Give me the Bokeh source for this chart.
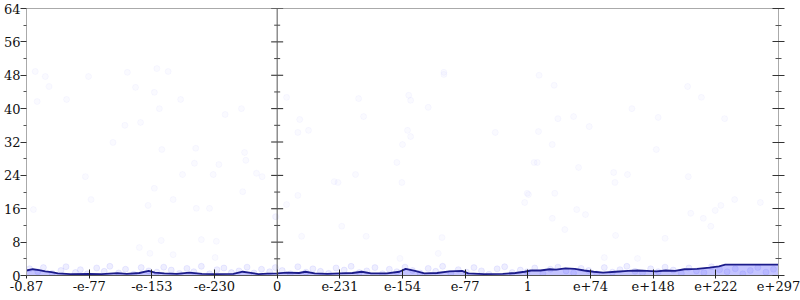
from bokeh.plotting import figure
from bokeh.models import Range1d, LinearAxis, FixedTicker, Span, CustomLabelingPolicy
from bokeh.embed import file_html
from bokeh.resources import INLINE

# ---- data ----
x_ticks = [0, 1, 2, 3, 4, 5, 6, 7, 8, 9, 10, 11, 12]
x_labels = ["-0.87", "-e-77", "-e-153", "-e-230", "0", "e-231", "e-154",
            "e-77", "1", "e+74", "e+148", "e+222", "e+297"]
y_major = [0, 8, 16, 24, 32, 40, 48, 56, 64]
y_minor = [4, 12, 20, 28, 36, 44, 52, 60]

kde_x = [0.00, 0.10, 0.20, 0.30, 0.40, 0.50, 0.70, 1.00, 1.20, 1.45, 1.60, 1.80,
         1.95, 2.05, 2.20, 2.40, 2.60, 2.80, 3.00, 3.30, 3.45, 3.55, 3.70, 3.85,
         4.00, 4.15, 4.35, 4.45, 4.60, 4.80, 5.00, 5.20, 5.35, 5.50, 5.75, 5.95,
         6.05, 6.20, 6.35, 6.55, 6.75, 6.95, 7.05, 7.30, 7.60, 7.80, 7.95, 8.05,
         8.20, 8.35, 8.45, 8.60, 8.75, 8.90, 9.05, 9.20, 9.40, 9.60, 9.75, 9.90,
         10.05, 10.20, 10.35, 10.50, 10.70, 10.90, 11.05, 11.15, 12.00]
kde_y = [1.2, 1.5, 1.3, 1.0, 0.8, 0.5, 0.35, 0.4, 0.35, 0.55, 0.4, 0.6,
         1.1, 0.7, 0.5, 0.4, 0.7, 0.4, 0.35, 0.4, 0.9, 0.7, 0.35, 0.45,
         0.5, 0.7, 0.6, 0.9, 0.5, 0.4, 0.5, 0.6, 0.9, 0.5, 0.5, 0.9,
         1.6, 1.1, 0.5, 0.6, 1.0, 1.1, 0.5, 0.35, 0.4, 0.6, 0.9, 1.2,
         1.2, 1.5, 1.4, 1.7, 1.6, 1.2, 0.9, 0.7, 0.9, 1.1, 1.2, 1.1,
         1.0, 1.2, 1.1, 1.5, 1.6, 1.9, 2.2, 2.6, 2.6]

pts_x = [0.14, 0.30, 0.36, 0.17, 0.64, 0.99, 1.61, 1.74, 2.08, 2.26, 2.04, 2.12,
         2.46, 1.57, 1.82, 1.38, 2.16, 2.70, 2.68, 3.07, 3.17, 3.43, 3.48, 3.50,
         2.49, 2.98, 3.67, 3.76, 0.94, 1.03, 2.04, 2.34, 3.45, 1.94, 2.71, 2.92,
         0.11, 2.15, 2.79, 3.03, 1.80, 1.97, 2.34, 3.01, 3.97,
         4.15, 4.36, 4.33, 4.50, 5.30, 5.38, 6.66, 6.66, 6.10, 6.13, 6.41, 6.08,
         6.13, 6.00, 5.91, 5.99, 5.25, 4.91, 4.97, 4.33, 4.15, 3.98, 5.03, 4.39,
         5.42, 6.63, 6.57, 5.96, 7.48, 8.10, 8.01, 7.95,
         8.18, 8.42, 10.55, 10.77, 9.66, 8.48, 8.73, 10.08, 11.14, 8.98, 8.17, 8.39,
         10.05, 8.15, 8.81, 9.37, 9.39, 9.59, 10.56, 7.99, 8.43, 11.30, 11.71, 11.08,
         10.99, 8.78, 8.92, 8.39, 10.60, 10.80, 10.92, 8.59, 9.40, 10.19, 9.22, 9.75]
pts_y = [48.9, 47.7, 45.3, 41.7, 42.2, 47.7, 48.7, 45.1, 49.6, 48.9, 43.9, 40.0,
         42.2, 36.0, 36.7, 31.9, 30.2, 30.5, 26.9, 26.6, 38.6, 40.0, 29.5, 27.6,
         24.2, 24.2, 24.5, 23.7, 23.7, 18.2, 20.9, 18.2, 20.1, 16.8, 16.1, 16.1,
         15.8, 8.4, 8.6, 8.2, 6.7, 5.3, 5.0, 4.3, 14.1,
         42.7, 37.4, 34.3, 34.8, 42.4, 38.1, 48.7, 48.2, 43.2, 42.0, 40.3, 34.8,
         33.3, 31.4, 27.1, 22.3, 24.2, 22.5, 22.3, 19.2, 17.0, 14.1, 11.8, 9.4,
         9.4, 9.1, 5.3, 4.1, 34.3, 27.1, 19.4, 17.5,
         48.0, 45.6, 45.3, 42.7, 40.0, 37.6, 38.1, 37.9, 37.6, 35.7, 34.5, 31.4,
         30.2, 27.1, 25.9, 24.7, 22.3, 24.2, 23.7, 19.7, 19.7, 18.2, 17.5, 16.8,
         15.6, 15.8, 14.6, 13.7, 14.9, 13.7, 11.8, 11.0, 9.6, 8.9, 4.3, 4.1]

band_x = [0.05, 0.18, 0.27, 0.41, 0.55, 0.63, 0.78, 0.86, 0.97, 1.12,
          1.24, 1.33, 1.47, 1.58, 1.71, 1.83, 1.95, 2.08, 2.19, 2.31,
          2.44, 2.56, 2.67, 2.79, 2.92, 3.04, 3.15, 3.27, 3.39, 3.52,
          3.63, 3.75, 3.88, 3.97, 4.08, 4.21, 4.33, 4.46, 4.57, 4.69,
          4.82, 4.94, 5.07, 5.18, 5.31, 5.43, 5.56, 5.68, 5.79, 5.91,
          6.04, 6.16, 6.28, 6.41, 6.53, 6.64, 6.77, 6.89, 7.02, 7.14,
          7.26, 7.38, 7.51, 7.63, 7.75, 7.88, 7.99, 8.11, 8.24, 8.36,
          8.48, 8.61, 8.73, 8.85, 8.97, 9.10, 9.22, 9.35, 9.47, 9.58,
          9.71, 9.83, 9.96, 10.08, 10.19, 10.32, 10.45, 10.57, 10.69, 10.81,
          10.93, 11.06, 11.18, 11.31, 11.43, 11.55, 11.67, 11.80, 11.92]
band_y = [1.6, 0.9, 1.9, 0.5, 1.2, 2.1, 0.7, 1.4, 0.4, 1.8,
          1.0, 2.2, 0.6, 1.5, 0.3, 1.9, 1.1, 0.8, 2.0, 1.3,
          0.5, 1.7, 0.9, 2.2, 0.4, 1.4, 1.8, 0.7, 1.1, 2.0,
          0.6, 1.5, 0.9, 1.9, 1.2, 0.4, 2.1, 0.8, 1.6, 1.0,
          0.5, 1.8, 1.3, 2.2, 0.7, 1.1, 1.9, 0.4, 1.5, 0.9,
          2.0, 1.2, 0.6, 1.7, 1.0, 2.2, 0.5, 1.4, 0.8, 1.9,
          1.1, 0.3, 1.6, 2.1, 0.7, 1.3, 0.9, 1.8, 0.5, 1.5,
          2.0, 1.1, 0.6, 1.7, 1.2, 0.4, 1.9, 0.8, 1.4, 2.2,
          1.0, 0.6, 1.6, 0.9, 2.0, 1.3, 0.5, 1.8, 1.1, 0.7,
          2.1, 1.4, 0.9, 1.6, 0.4, 1.2, 1.9, 0.8, 1.5]

mid_x = 4     # position of the "0" divider axis

FONT = "DejaVu Serif"

p = figure(width=800, height=300, x_range=Range1d(0, 12), y_range=Range1d(0, 64),
           output_backend="svg", toolbar_location=None,
           x_axis_type=None, y_axis_type=None,
           min_border_left=22, min_border_right=22, min_border_top=8, min_border_bottom=25)
p.outline_line_color = "#aaaaaa"
p.background_fill_color = "white"
p.border_fill_color = "white"

# left axis
yl = LinearAxis(ticker=FixedTicker(ticks=y_major, minor_ticks=y_minor))
yl.axis_line_color = "#aaaaaa"
yl.major_tick_line_color = "#333333"
yl.minor_tick_line_color = "#555555"
yl.major_tick_in = 0
yl.major_tick_out = 6
yl.minor_tick_in = 0
yl.minor_tick_out = 3
yl.major_label_standoff = 0
yl.major_label_text_font = FONT
yl.major_label_text_font_size = "13px"
yl.major_label_text_color = "#111111"
p.add_layout(yl, "left")

# right axis: ticks on both sides, no labels
yr = LinearAxis(ticker=FixedTicker(ticks=y_major, minor_ticks=y_minor))
yr.axis_line_color = "#aaaaaa"
yr.major_tick_line_color = "#333333"
yr.minor_tick_line_color = "#555555"
yr.major_tick_in = 6
yr.major_tick_out = 6
yr.minor_tick_in = 3
yr.minor_tick_out = 3
yr.major_label_standoff = 0
yr.major_label_policy = CustomLabelingPolicy(
    code="const all = [...indices]; for (const i of all) { indices.unset(i) } return indices")
p.add_layout(yr, "right")

# bottom axis
xb = LinearAxis(ticker=FixedTicker(ticks=x_ticks, minor_ticks=[]))
xb.major_label_overrides = {t: l for t, l in zip(x_ticks, x_labels)}
xb.axis_line_color = "#555555"
xb.major_tick_line_color = "#222222"
xb.major_tick_in = 6
xb.major_tick_out = 3
xb.major_label_standoff = 2
xb.major_label_text_font = FONT
xb.major_label_text_font_size = "13px"
xb.major_label_text_color = "#111111"
p.add_layout(xb, "below")

# scattered raw points
p.scatter(pts_x, pts_y, size=6, fill_color="#6a6aff", fill_alpha=0.035,
          line_color="#6a6aff", line_alpha=0.04)
p.scatter(band_x, band_y, size=6, fill_color="#5a5aff", fill_alpha=0.1,
          line_color="#5a5aff", line_alpha=0.1)

# density
p.varea(x=kde_x, y1=[0] * len(kde_x), y2=kde_y, fill_color="#3c3cff", fill_alpha=0.3)
p.line(kde_x, kde_y, line_color="#1c1c8a", line_width=1.8)

# middle divider axis at "0"
p.add_layout(Span(location=mid_x, dimension="height", line_color="#555555", line_width=1))
p.scatter([mid_x] * len(y_major), y_major, marker="dash", size=12,
          line_color="#222222", line_width=1)
p.scatter([mid_x] * len(y_minor), y_minor, marker="dash", size=6,
          line_color="#444444", line_width=1)

open("out.html", "w").write(file_html(p, INLINE))
